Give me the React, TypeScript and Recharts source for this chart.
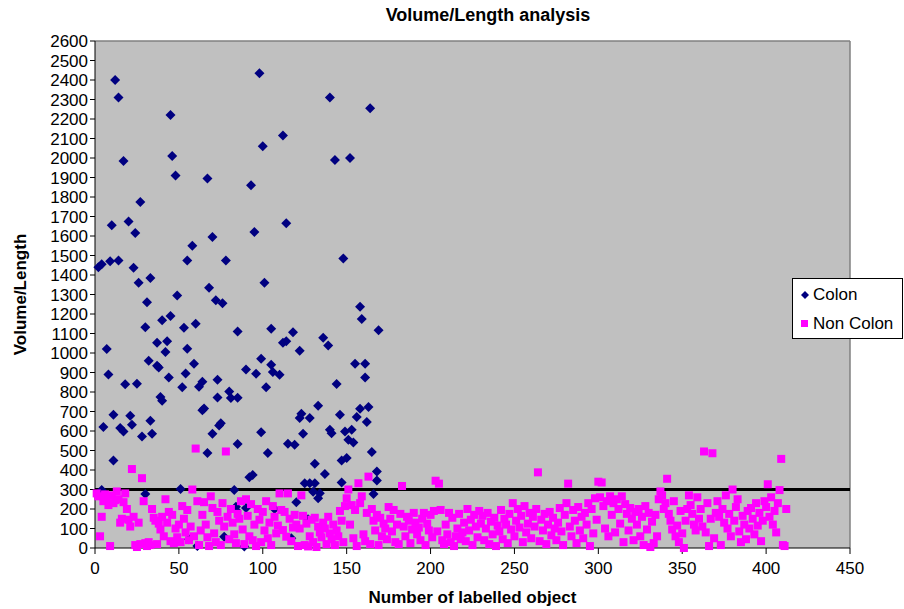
import React from "react";
import {
  ScatterChart,
  Scatter,
  XAxis,
  YAxis,
  CartesianGrid,
  ReferenceLine,
} from "recharts";

// Colon objects: [object number, volume/length]
const colonPoints: [number, number][] = [
  [12, 2400], [14, 2310], [45, 2220], [17, 1985], [46, 2010], [48, 1910], [67, 1895], [27, 1775],
  [10, 1655], [20, 1675], [24, 1615], [70, 1595], [58, 1550], [2, 1440], [4, 1455], [9, 1470],
  [14, 1475], [55, 1475], [78, 1475], [23, 1437], [33, 1385], [26, 1360], [68, 1335], [49, 1295],
  [72, 1270], [98, 2435], [140, 2310], [164, 2255], [112, 2115], [100, 2060], [143, 1990], [152, 2000],
  [93, 1860], [95, 1620], [114, 1665], [148, 1485], [101, 1360], [31, 1260], [76, 1255], [40, 1168],
  [45, 1190], [30, 1132], [53, 1130], [60, 1150], [85, 1110], [7, 1020], [37, 1052], [43, 1060],
  [42, 1005], [55, 1022], [32, 960], [37, 935], [38, 926], [59, 945], [8, 890], [44, 875],
  [54, 895], [18, 840], [25, 842], [52, 824], [62, 827], [64, 853], [73, 863], [39, 775],
  [40, 755], [73, 772], [80, 803], [81, 769], [85, 770], [65, 716], [64, 706], [11, 683],
  [21, 678], [22, 632], [33, 653], [5, 620], [15, 615], [17, 598], [28, 572], [34, 586],
  [75, 640], [74, 628], [70, 586], [85, 533], [67, 487], [11, 449], [30, 277], [51, 303],
  [83, 298], [84, 212], [84, 195], [77, 58], [61, 10], [56, 45], [4, 298], [90, 205], [89, 8],
  [158, 1237], [159, 1175], [169, 1117], [105, 1125], [118, 1106], [112, 1052], [114, 1060], [122, 1012],
  [136, 1078], [139, 1038], [99, 971], [105, 940], [90, 915], [96, 894], [106, 903], [110, 889],
  [155, 945], [161, 945], [161, 875], [144, 841], [102, 824], [133, 730], [123, 689], [122, 667],
  [128, 667], [158, 714], [163, 723], [156, 672], [162, 646], [146, 683], [124, 586], [140, 606],
  [141, 589], [149, 598], [153, 606], [99, 593], [151, 555], [154, 541], [115, 534], [119, 529],
  [103, 487], [165, 492], [147, 449], [150, 461], [131, 432], [137, 380], [92, 363], [94, 375],
  [168, 392], [168, 346], [125, 332], [128, 332], [131, 332], [147, 336], [130, 289], [120, 235],
  [133, 255], [134, 281], [107, 200], [127, 147], [166, 277], [117, 50],
];

// Non colon objects: value for object 1, 2, 3 ...
const nonColonValues: number[] = [
  280, 265, 60, 160, 240, 275, 250, 220, 10, 270,
  230, 245, 290, 250, 130, 150, 235, 280, 200, 145,
  110, 405, 160, 15, 5, 130, 20, 358, 240, 25,
  10, 30, 15, 200, 155, 140, 20, 125, 95, 160,
  60, 250, 130, 185, 35, 170, 25, 100, 55, 120,
  30, 215, 150, 80, 195, 40, 110, 300, 60, 510,
  240, 15, 90, 170, 235, 120, 55, 10, 265, 205,
  75, 30, 185, 140, 15, 230, 110, 495, 160, 45,
  200, 130, 70, 25, 175, 150, 240, 95, 20, 250,
  165, 60, 225, 40, 120, 10, 200, 145, 30, 185,
  90, 240, 50, 130, 15, 215, 160, 75, 115, 280,
  195, 92, 185, 58, 280, 150, 35, 105, 170, 120,
  10, 100, 270, 165, 15, 125, 8, 60, 145, 30,
  155, 5, 110, 80, 55, 130, 100, 20, 160, 75,
  45, 120, 15, 90, 60, 190, 140, 30, 215, 255,
  300, 120, 220, 50, 195, 10, 332, 230, 265, 70,
  35, 180, 366, 20, 200, 140, 90, 170, 15, 155,
  60, 125, 100, 45, 210, 150, 85, 195, 30, 120,
  20, 175, 318, 110, 60, 160, 140, 25, 95, 180,
  130, 70, 105, 40, 150, 180, 15, 125, 90, 170,
  55, 190, 345, 85, 330, 195, 40, 20, 120, 70,
  180, 30, 155, 10, 60, 100, 175, 45, 80, 130,
  35, 200, 90, 145, 15, 170, 110, 55, 190, 125,
  165, 40, 100, 180, 20, 135, 70, 155, 10, 115,
  85, 195, 45, 150, 120, 25, 175, 95, 230, 60,
  140, 200, 105, 165, 30, 215, 80, 125, 180, 50,
  160, 110, 200, 388, 35, 145, 90, 175, 20, 120,
  185, 65, 155, 100, 40, 130, 205, 85, 15, 170,
  230, 330, 110, 60, 195, 140, 25, 210, 90, 160,
  50, 180, 120, 230, 10, 200, 75, 255, 145, 340,
  260, 336, 215, 100, 240, 60, 265, 170, 230, 80,
  250, 200, 125, 265, 30, 225, 175, 90, 205, 150,
  40, 185, 120, 200, 60, 160, 15, 215, 95, 180,
  5, 135, 25, 170, 60, 250, 290, 270, 200, 230,
  355, 175, 140, 95, 240, 60, 115, 30, 190, 75,
  0, 140, 200, 270, 220, 175, 120, 90, 260, 150,
  200, 110, 495, 80, 230, 10, 150, 486, 50, 180,
  240, 160, 15, 200, 130, 270, 100, 175, 60, 300,
  140, 210, 250, 85, 30, 165, 120, 45, 190, 100,
  205, 150, 70, 230, 115, 180, 35, 140, 240, 210,
  327, 160, 260, 120, 190, 80, 230, 297, 457, 15,
  10, 200,
];

const xTicks = [0, 50, 100, 150, 200, 250, 300, 350, 400, 450];
const yTicks = [
  0, 100, 200, 300, 400, 500, 600, 700, 800, 900, 1000, 1100, 1200, 1300,
  1400, 1500, 1600, 1700, 1800, 1900, 2000, 2100, 2200, 2300, 2400, 2500, 2600,
];
const threshold = 300;

const colonData = colonPoints.map(([x, y]) => ({ x, y }));
const nonColonData = nonColonValues.map((y, i) => ({ x: i + 1, y }));

const font = "'Liberation Sans', Arial, sans-serif";

const Diamond = (props: any) => {
  const { cx, cy } = props;
  const r = 5;
  return (
    <polygon
      points={`${cx},${cy - r} ${cx + r},${cy} ${cx},${cy + r} ${cx - r},${cy}`}
      fill="#000080"
    />
  );
};

const Square = (props: any) => {
  const { cx, cy } = props;
  return <rect x={cx - 4} y={cy - 4} width={8} height={8} fill="#ff00ff" />;
};

export default function App() {
  return (
    <div
      style={{
        position: "absolute",
        left: 0,
        top: 0,
        width: 904,
        height: 609,
        background: "#fff",
        fontFamily: font,
      }}
    >
      <div
        style={{
          position: "absolute",
          left: 0,
          width: 976,
          top: 5,
          textAlign: "center",
          fontSize: 18,
          fontWeight: "bold",
        }}
      >
        Volume/Length analysis
      </div>
      <ScatterChart
        width={904}
        height={609}
        margin={{ top: 41, right: 54, bottom: 0, left: 30 }}
      >
        <CartesianGrid fill="#c0c0c0" horizontal={false} vertical={false} />
        <XAxis
          type="number"
          dataKey="x"
          domain={[0, 450]}
          ticks={xTicks}
          interval={0}
          height={61}
          stroke="#000"
          tickSize={6}
          tickMargin={8}
          tick={{ fill: "#000", fontSize: 17, fontFamily: font }}
          label={{
            value: "Number of labelled object",
            position: "insideBottom",
            offset: 6,
            style: { fontSize: 17, fontWeight: "bold", fill: "#000", fontFamily: font },
          }}
        />
        <YAxis
          type="number"
          dataKey="y"
          domain={[0, 2600]}
          ticks={yTicks}
          interval={0}
          width={65}
          stroke="#000"
          tickSize={5}
          tick={{ fill: "#000", fontSize: 17, fontFamily: font }}
          label={{
            value: "Volume/Length",
            angle: -90,
            position: "center",
            dx: -43,
            style: { fontSize: 17, fontWeight: "bold", fill: "#000", fontFamily: font },
          }}
        />
        <ReferenceLine y={2600} stroke="#808080" strokeWidth={1.5} />
        <ReferenceLine x={450} stroke="#808080" strokeWidth={1.5} />
        <Scatter name="Colon" data={colonData} shape={Diamond} isAnimationActive={false} />
        <Scatter name="Non Colon" data={nonColonData} shape={Square} isAnimationActive={false} />
        <ReferenceLine y={threshold} stroke="#000" strokeWidth={3} />
      </ScatterChart>
      <div
        style={{
          position: "absolute",
          left: 792,
          top: 278,
          width: 111,
          height: 61,
          background: "#fff",
          border: "1px solid #000",
          fontSize: 17,
          boxSizing: "border-box",
        }}
      >
        <div style={{ position: "absolute", left: 8, top: 6, display: "flex", alignItems: "center" }}>
          <svg width={8} height={8} style={{ marginRight: 4 }}>
            <polygon points="4,0 8,4 4,8 0,4" fill="#000080" />
          </svg>
          Colon
        </div>
        <div style={{ position: "absolute", left: 8, top: 35, display: "flex", alignItems: "center" }}>
          <svg width={8} height={8} style={{ marginRight: 4 }}>
            <rect x={0} y={0} width={7} height={7} fill="#ff00ff" />
          </svg>
          Non Colon
        </div>
      </div>
    </div>
  );
}
